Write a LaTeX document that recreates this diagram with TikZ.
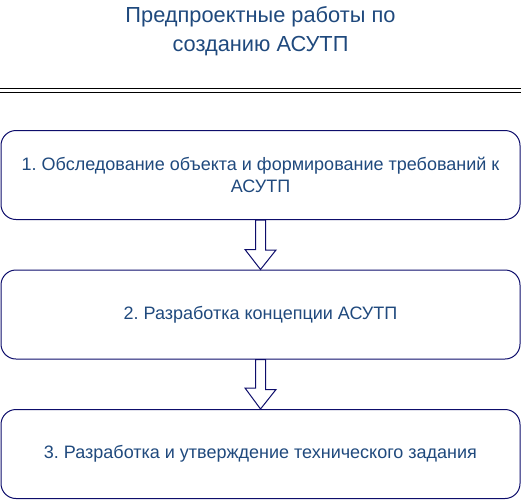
\documentclass[tikz,border=0pt]{standalone}
\usepackage{fontspec}
\setmainfont{Liberation Sans}
\definecolor{txt}{HTML}{1F497D}
\definecolor{edge}{HTML}{0D0D6B}
\frenchspacing
\begin{document}
\begin{tikzpicture}[x=1pt,y=-1pt,
  stage/.style={draw=edge, line width=1pt, rounded corners=15pt, minimum width=519pt, minimum height=89pt, align=center, text=txt, font=\fontsize{18}{22}\selectfont, inner sep=0pt},
  blockarrow/.style={draw=edge, fill=white, line width=1pt, line join=miter}]
\useasboundingbox (0,0) rectangle (521,501);
\node[text=txt, align=center, font=\fontsize{21.8}{29}\selectfont] (title) at (260.5,31.5) {Предпроектные работы по\\созданию АСУТП};
\coordinate (dl) at (0,88.5); \coordinate (dr) at (521,88.5);
\coordinate (dl2) at (0,92.5); \coordinate (dr2) at (521,92.5);
\draw[line width=1pt] (dl) -- (dr);
\draw[line width=1pt] (dl2) -- (dr2);
\node[stage] (s1) at (260.5,175) {1. Обследование объекта и формирование требований к\\АСУТП};
\node[stage] (s2) at (260.5,314.5) {2. Разработка концепции АСУТП};
\node[stage] (s3) at (260.5,454) {3. Разработка и утверждение технического задания};
\draw[blockarrow] ([xshift=-5pt]s1.south) -- ([xshift=5pt]s1.south) -- ++(0,30) -- ++(10.5,0) -- (s2.north) -- ++(-15.5,-20) -- ++(10.5,0) -- cycle;
\draw[blockarrow] ([xshift=-5pt]s2.south) -- ([xshift=5pt]s2.south) -- ++(0,30) -- ++(10.5,0) -- (s3.north) -- ++(-15.5,-21) -- ++(10.5,0) -- cycle;
\end{tikzpicture}
\end{document}
